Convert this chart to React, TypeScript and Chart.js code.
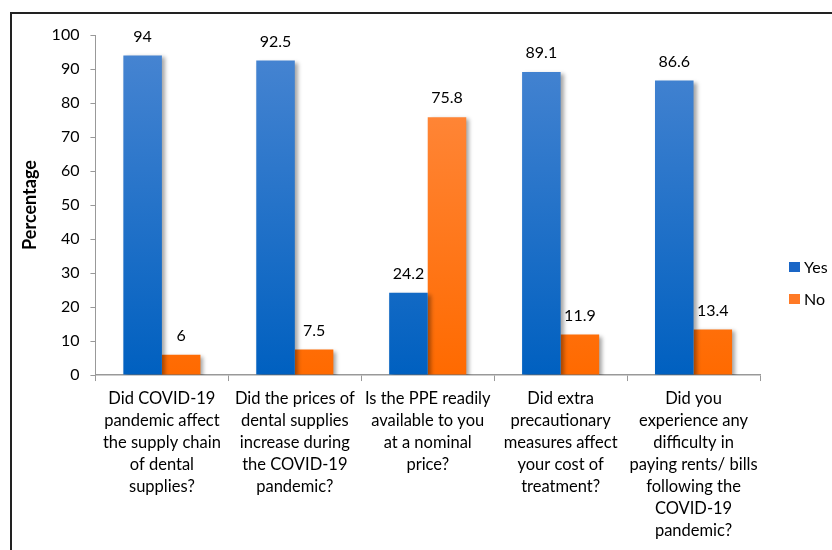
import React, { useEffect, useRef } from "react";
import { Chart, registerables } from "chart.js";

Chart.register(...registerables);

const categories: string[][] = [
  ["Did COVID-19", "pandemic affect", "the supply chain", "of dental", "supplies?"],
  ["Did the prices of", "dental supplies", "increase during", "the COVID-19", "pandemic?"],
  ["Is the PPE readily", "available to you", "at a nominal", "price?"],
  ["Did extra", "precautionary", "measures affect", "your cost of", "treatment?"],
  ["Did you", "experience any", "difficulty in", "paying rents/ bills", "following the", "COVID-19", "pandemic?"],
];
const yesValues = [94, 92.5, 24.2, 89.1, 86.6];
const noValues = [6, 7.5, 75.8, 11.9, 13.4];
const seriesNames = ["Yes", "No"];
const legendColors = ["#1a66c6", "#ff7a26"];

const FONT = "Lato, 'Open Sans', sans-serif";

function gradient(chart: any, top: string, bottom: string, fallback: string) {
  const area = chart.chartArea;
  if (!area) return fallback;
  const g = chart.ctx.createLinearGradient(0, area.top, 0, area.bottom);
  g.addColorStop(0, top);
  g.addColorStop(1, bottom);
  return g;
}

const shadowPlugin = {
  id: "barShadow",
  beforeDatasetsDraw(chart: any) {
    const ctx = chart.ctx;
    ctx.save();
    ctx.shadowColor = "rgba(0,0,0,0.35)";
    ctx.shadowOffsetX = 3;
    ctx.shadowOffsetY = 2;
    ctx.shadowBlur = 4;
  },
  afterDatasetsDraw(chart: any) {
    chart.ctx.restore();
  },
};

const labelPlugin = {
  id: "valueLabels",
  afterDraw(chart: any) {
    const ctx = chart.ctx;
    ctx.save();
    ctx.font = `16px ${FONT}`;
    ctx.fillStyle = "#000";
    ctx.textAlign = "center";
    ctx.textBaseline = "middle";
    chart.data.datasets.forEach((ds: any, di: number) => {
      const meta = chart.getDatasetMeta(di);
      meta.data.forEach((bar: any, i: number) => {
        ctx.fillText(String(ds.data[i]), bar.x, bar.y - 19);
      });
    });
    ctx.restore();
  },
};

const legendPlugin = {
  id: "sideLegend",
  afterDraw(chart: any) {
    const ctx = chart.ctx;
    const x = chart.chartArea.right + 29;
    const mid = chart.height / 2;
    const offsets = [-15, 17];
    ctx.save();
    ctx.font = `16px ${FONT}`;
    ctx.textBaseline = "middle";
    ctx.textAlign = "left";
    chart.data.datasets.forEach((ds: any, i: number) => {
      const y = mid + offsets[i];
      ctx.fillStyle = legendColors[i];
      ctx.fillRect(x, y - 5, 11, 10);
      ctx.fillStyle = "#000";
      ctx.fillText(ds.label, x + 15, y + 1);
    });
    ctx.restore();
  },
};

export default function App() {
  const ref = useRef<HTMLCanvasElement>(null);
  useEffect(() => {
    if (!ref.current) return;
    const chart = new Chart(ref.current, {
      type: "bar",
      data: {
        labels: categories,
        datasets: [
          {
            label: seriesNames[0],
            data: yesValues,
            backgroundColor: (c: any) => gradient(c.chart, "#4a86d2", "#0060c0", "#1f6fc8"),
            borderWidth: 0,
            categoryPercentage: 0.58,
            barPercentage: 1,
          },
          {
            label: seriesNames[1],
            data: noValues,
            backgroundColor: (c: any) => gradient(c.chart, "#ff8d46", "#ff6a00", "#ff7a20"),
            borderWidth: 0,
            categoryPercentage: 0.58,
            barPercentage: 1,
          },
        ],
      },
      options: {
        animation: false,
        responsive: false,
        maintainAspectRatio: false,
        layout: { padding: { left: 7, top: 21, bottom: 1, right: 72 } },
        plugins: {
          legend: { display: false },
          tooltip: { enabled: false },
        },
        scales: {
          x: {
            grid: {
              offset: true,
              drawOnChartArea: false,
              drawTicks: true,
              tickLength: 6,
              color: "#999",
            },
            border: { color: "#999", width: 1.5 },
            ticks: {
              color: "#000",
              font: { family: FONT, size: 16.5, lineHeight: 1.333 },
              padding: 7,
              maxRotation: 0,
              autoSkip: false,
            },
          },
          y: {
            min: 0,
            max: 100,
            grid: {
              drawOnChartArea: false,
              drawTicks: true,
              tickLength: 5,
              color: "#999",
            },
            border: { color: "#999", width: 1 },
            ticks: {
              stepSize: 10,
              color: "#000",
              font: { family: FONT, size: 16 },
              padding: 11,
            },
            title: {
              display: true,
              text: "Percentage",
              color: "#000",
              font: { family: FONT, size: 18, weight: "bold", lineHeight: 1.2 },
              padding: 0,
            },
          },
        },
      },
      plugins: [shadowPlugin, labelPlugin, legendPlugin],
    });
    return () => chart.destroy();
  }, []);
  return (
    <div
      style={{
        position: "fixed",
        left: 10,
        top: 12,
        width: 820,
        height: 536,
        borderTop: "2px solid #222",
        borderLeft: "2px solid #222",
        background: "#fff",
      }}
    >
      <canvas ref={ref} width={820} height={536} style={{ display: "block", width: 820, height: 536 }} />
    </div>
  );
}
